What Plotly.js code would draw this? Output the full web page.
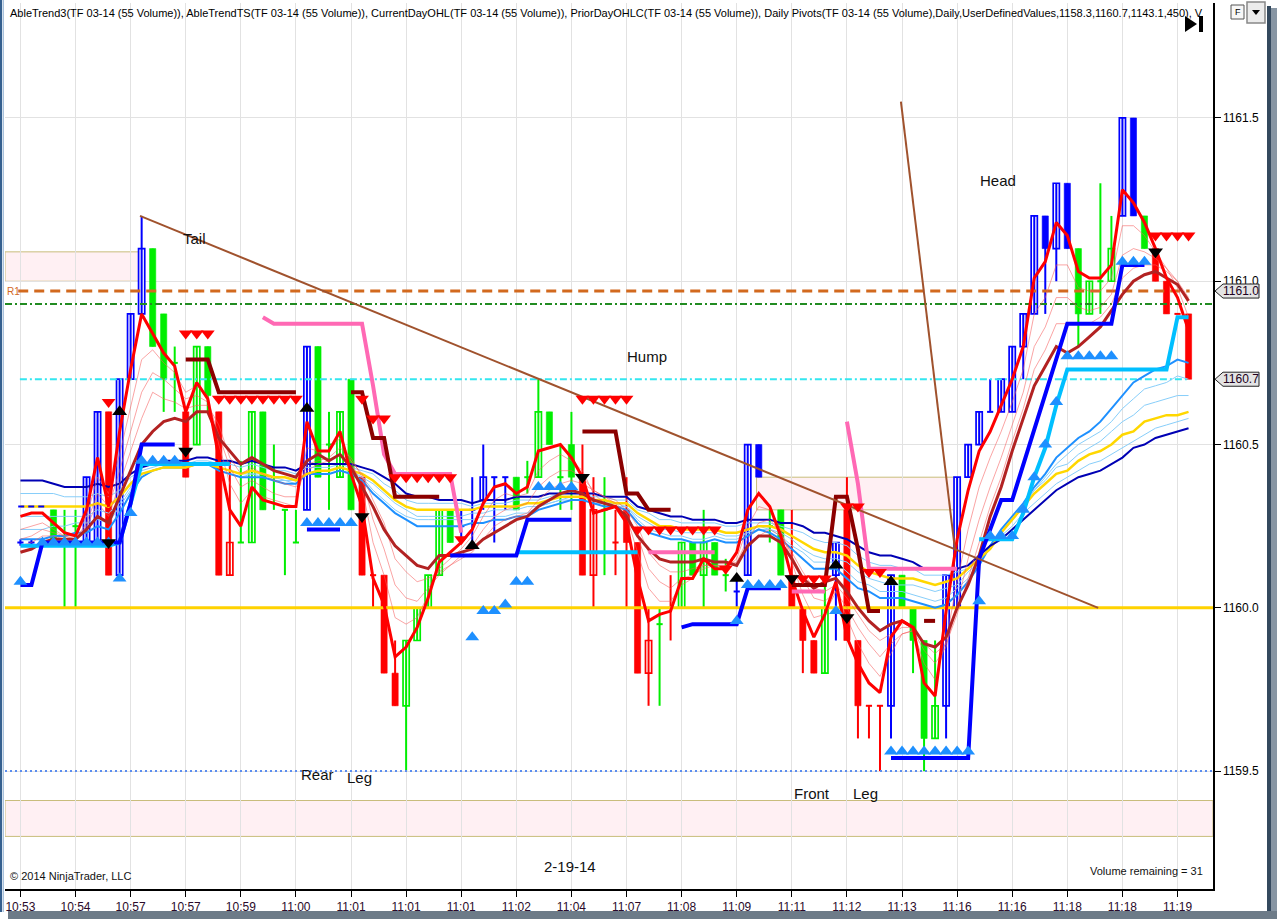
<!DOCTYPE html>
<html><head><meta charset="utf-8">
<script src="https://cdn.plot.ly/plotly-3.0.1.min.js"></script>
<style>html,body{margin:0;padding:0;background:#fff}#chart{width:1277px;height:919px}</style>
</head><body><div id="chart"></div><script>
// ---------- DATA ----------
const timeLabels = ['10:53','10:54','10:57','10:57','10:59','11:00','11:01','11:01','11:01','11:02','11:04','11:07','11:08','11:09','11:11','11:12','11:13','11:16','11:16','11:18','11:18','11:19'];
const tickBars = [0,5,10,15,20,25,30,35,40,45,50,55,60,65,70,75,80,85,90,95,100,105];
const priceTicks = [1159.5,1160.0,1160.5,1161.0,1161.5];

const open = [1160.20,1160.20,1160.20,1160.30,1160.20,1160.25,1160.20,1160.20,1160.60,1160.10,
1160.70,1160.90,1161.10,1160.90,1160.75,1160.60,1160.50,1160.80,1160.60,1160.10,
1160.20,1160.20,1160.60,1160.40,1160.30,1160.20,1160.30,1160.80,1160.50,1160.40,
1160.70,1160.40,1160.10,1160.10,1159.80,1159.70,1159.90,1160.00,1160.10,1160.30,
1160.25,1160.30,1160.33,1160.40,1160.40,1160.40,1160.40,1160.40,1160.60,1160.40,
1160.50,1160.40,1160.10,1160.30,1160.20,1160.30,1160.20,1159.80,1159.95,1160.00,
1160.00,1160.20,1160.10,1160.20,1160.10,1160.05,1160.10,1160.50,1160.25,1160.30,
1160.10,1160.00,1159.90,1159.80,1160.10,1160.30,1159.90,1159.70,1159.70,1159.70,
1160.10,1160.00,1159.90,1159.60,1159.70,1160.00,1160.40,1160.50,1160.60,1160.60,
1160.60,1160.80,1160.90,1161.20,1161.10,1161.30,1161.10,1160.90,1161.00,1161.00,
1161.20,1161.50,1161.20,1161.10,1161.00,1160.90,1160.90];
const high = [1160.21,1160.21,1160.21,1160.30,1160.30,1160.30,1160.40,1160.60,1160.60,1160.70,
1160.90,1161.20,1161.10,1160.90,1160.80,1160.60,1160.80,1160.80,1160.60,1160.45,
1160.45,1160.60,1160.60,1160.50,1160.30,1160.30,1160.80,1160.80,1160.60,1160.60,
1160.70,1160.40,1160.10,1160.10,1159.90,1159.90,1160.00,1160.10,1160.30,1160.30,
1160.30,1160.40,1160.50,1160.40,1160.40,1160.40,1160.45,1160.70,1160.60,1160.50,
1160.60,1160.50,1160.40,1160.40,1160.30,1160.40,1160.20,1160.00,1160.00,1160.10,
1160.20,1160.20,1160.30,1160.20,1160.15,1160.10,1160.50,1160.50,1160.30,1160.30,
1160.30,1160.00,1159.90,1160.10,1160.20,1160.40,1159.90,1159.70,1159.70,1160.10,
1160.10,1160.00,1159.90,1159.90,1160.10,1160.40,1160.50,1160.60,1160.70,1160.70,
1160.80,1160.90,1161.20,1161.20,1161.30,1161.30,1161.10,1161.00,1161.30,1161.20,
1161.50,1161.50,1161.20,1161.10,1161.00,1160.90,1160.90];
const low = [1160.19,1160.19,1160.19,1160.20,1160.00,1160.00,1160.20,1160.20,1160.10,1160.10,
1160.70,1160.90,1160.80,1160.60,1160.60,1160.40,1160.50,1160.60,1160.10,1160.10,
1160.20,1160.20,1160.30,1160.30,1160.10,1160.20,1160.30,1160.40,1160.30,1160.40,
1160.30,1160.10,1160.00,1159.80,1159.70,1159.50,1159.90,1160.00,1160.10,1160.20,
1160.20,1160.20,1160.30,1160.20,1160.30,1160.30,1160.35,1160.40,1160.50,1160.30,
1160.30,1160.10,1160.00,1160.10,1160.10,1160.00,1159.80,1159.70,1159.70,1159.90,
1160.00,1160.10,1160.00,1160.10,1160.05,1160.00,1160.10,1160.40,1160.20,1160.10,
1160.00,1159.80,1159.80,1159.80,1159.90,1159.90,1159.60,1159.60,1159.50,1159.60,
1160.00,1159.80,1159.50,1159.60,1159.60,1160.00,1160.40,1160.50,1160.60,1160.60,
1160.60,1160.70,1160.90,1160.90,1161.00,1161.10,1160.80,1160.90,1160.90,1161.00,
1161.20,1161.20,1161.10,1161.00,1160.90,1160.90,1160.70];
const close = [1160.20,1160.20,1160.20,1160.20,1160.20,1160.25,1160.40,1160.60,1160.10,1160.70,
1160.90,1161.10,1160.80,1160.70,1160.75,1160.40,1160.80,1160.65,1160.10,1160.20,
1160.20,1160.60,1160.30,1160.40,1160.30,1160.20,1160.80,1160.40,1160.50,1160.60,
1160.30,1160.10,1160.10,1159.80,1159.70,1159.90,1160.00,1160.10,1160.30,1160.20,
1160.25,1160.30,1160.40,1160.40,1160.40,1160.30,1160.40,1160.60,1160.50,1160.40,
1160.40,1160.10,1160.30,1160.30,1160.20,1160.20,1159.80,1159.90,1159.95,1160.00,
1160.20,1160.10,1160.20,1160.10,1160.10,1160.05,1160.50,1160.40,1160.25,1160.10,
1160.00,1159.90,1159.80,1160.00,1160.20,1159.90,1159.70,1159.70,1159.70,1160.10,
1160.00,1159.90,1159.60,1159.70,1160.10,1160.40,1160.50,1160.60,1160.60,1160.70,
1160.80,1160.90,1161.20,1161.10,1161.30,1161.10,1160.90,1161.00,1161.00,1161.10,
1161.50,1161.20,1161.10,1161.00,1160.90,1160.90,1160.70];
// trend colour of each bar: B = up trend, G = neutral, R = down trend
const barTrend = 'BBBGGGBBRBBBGGGRGGRRGGGGGGBGGGGRRRRGGGGGBBBBBGGGGGGRRGRRRRGRGGGGGBBBGGRRRGBRRRRBGGGGBBBBBBBBBBBBGGGGBBGRRRR'.split('');

const fastMA = [1160.28,1160.29,1160.29,1160.26,1160.23,1160.22,1160.30,1160.46,1160.31,1160.54,
1160.73,1160.90,1160.84,1160.78,1160.74,1160.60,1160.69,1160.64,1160.46,1160.30,
1160.25,1160.37,1160.33,1160.32,1160.31,1160.31,1160.57,1160.48,1160.48,1160.54,
1160.41,1160.31,1160.09,1160.01,1159.85,1159.88,1159.94,1160.03,1160.14,1160.17,
1160.20,1160.24,1160.32,1160.37,1160.38,1160.35,1160.37,1160.48,1160.49,1160.50,
1160.46,1160.40,1160.29,1160.30,1160.31,1160.26,1160.09,1159.96,1159.98,1159.99,
1160.09,1160.09,1160.15,1160.12,1160.12,1160.17,1160.30,1160.35,1160.31,1160.22,
1160.09,1159.99,1159.91,1159.98,1160.08,1159.91,1159.83,1159.77,1159.74,1159.91,
1159.96,1159.94,1159.77,1159.73,1159.99,1160.21,1160.36,1160.48,1160.54,1160.62,
1160.70,1160.80,1161.01,1161.06,1161.18,1161.14,1161.03,1161.01,1161.01,1161.05,
1161.28,1161.24,1161.18,1161.10,1161.01,1160.95,1160.85];
const slowMA = [1160.17,1160.18,1160.20,1160.21,1160.21,1160.21,1160.24,1160.28,1160.26,1160.34,
1160.42,1160.50,1160.54,1160.57,1160.58,1160.57,1160.60,1160.60,1160.52,1160.48,
1160.44,1160.46,1160.44,1160.42,1160.41,1160.40,1160.45,1160.47,1160.45,1160.47,
1160.43,1160.37,1160.31,1160.24,1160.19,1160.16,1160.13,1160.12,1160.16,1160.16,
1160.17,1160.18,1160.21,1160.23,1160.25,1160.27,1160.28,1160.31,1160.33,1160.35,
1160.36,1160.35,1160.33,1160.32,1160.31,1160.28,1160.22,1160.18,1160.15,1160.14,
1160.14,1160.14,1160.15,1160.14,1160.14,1160.13,1160.19,1160.22,1160.22,1160.20,
1160.15,1160.09,1160.06,1160.08,1160.09,1160.05,1160.00,1159.96,1159.93,1159.95,
1159.96,1159.94,1159.89,1159.88,1159.91,1160.00,1160.07,1160.16,1160.28,1160.37,
1160.48,1160.58,1160.68,1160.74,1160.80,1160.78,1160.80,1160.83,1160.86,1160.91,
1160.96,1161.00,1161.02,1161.03,1161.01,1160.99,1160.94];
const redRibbon1 = [1160.24,1160.25,1160.26,1160.24,1160.22,1160.22,1160.28,1160.40,1160.35,1160.47,
1160.62,1160.76,1160.79,1160.75,1160.72,1160.66,1160.68,1160.65,1160.50,1160.38,
1160.32,1160.36,1160.34,1160.33,1160.32,1160.31,1160.49,1160.48,1160.48,1160.52,
1160.45,1160.37,1160.20,1160.10,1159.97,1159.95,1159.97,1160.04,1160.12,1160.15,
1160.18,1160.22,1160.28,1160.33,1160.35,1160.34,1160.35,1160.42,1160.45,1160.47,
1160.45,1160.42,1160.35,1160.32,1160.31,1160.28,1160.17,1160.06,1160.02,1160.02,
1160.07,1160.09,1160.13,1160.13,1160.12,1160.15,1160.25,1160.31,1160.30,1160.24,
1160.14,1160.04,1159.97,1159.98,1160.05,1159.97,1159.89,1159.83,1159.79,1159.86,
1159.92,1159.93,1159.83,1159.78,1159.90,1160.08,1160.24,1160.37,1160.46,1160.54,
1160.63,1160.73,1160.90,1160.95,1161.05,1161.05,1160.98,1160.97,1160.97,1161.01,
1161.17,1161.17,1161.14,1161.09,1161.04,1160.98,1160.89];
const redRibbon2 = [1160.21,1160.22,1160.24,1160.23,1160.22,1160.21,1160.26,1160.35,1160.31,1160.42,
1160.54,1160.66,1160.72,1160.70,1160.67,1160.64,1160.65,1160.63,1160.53,1160.43,
1160.37,1160.39,1160.37,1160.35,1160.34,1160.34,1160.44,1160.45,1160.46,1160.49,
1160.46,1160.40,1160.27,1160.18,1160.07,1160.03,1160.02,1160.06,1160.10,1160.13,
1160.16,1160.19,1160.24,1160.28,1160.30,1160.31,1160.32,1160.37,1160.40,1160.42,
1160.42,1160.40,1160.36,1160.34,1160.32,1160.29,1160.22,1160.12,1160.08,1160.06,
1160.09,1160.10,1160.12,1160.13,1160.13,1160.14,1160.21,1160.26,1160.27,1160.23,
1160.16,1160.09,1160.03,1160.02,1160.05,1160.00,1159.94,1159.89,1159.85,1159.89,
1159.92,1159.93,1159.87,1159.83,1159.88,1160.01,1160.15,1160.27,1160.37,1160.46,
1160.56,1160.66,1160.80,1160.86,1160.95,1160.95,1160.92,1160.91,1160.92,1160.96,
1161.08,1161.10,1161.09,1161.07,1161.04,1161.00,1160.93];
const redRibbon3 = [1160.19,1160.20,1160.22,1160.22,1160.21,1160.21,1160.25,1160.32,1160.28,1160.38,
1160.48,1160.58,1160.66,1160.64,1160.63,1160.61,1160.62,1160.62,1160.56,1160.46,
1160.41,1160.43,1160.41,1160.39,1160.38,1160.37,1160.42,1160.44,1160.45,1160.47,
1160.45,1160.41,1160.33,1160.26,1160.15,1160.11,1160.08,1160.09,1160.11,1160.13,
1160.15,1160.17,1160.21,1160.25,1160.27,1160.28,1160.29,1160.33,1160.36,1160.38,
1160.39,1160.38,1160.36,1160.34,1160.33,1160.30,1160.25,1160.17,1160.13,1160.11,
1160.11,1160.12,1160.13,1160.13,1160.13,1160.13,1160.19,1160.22,1160.24,1160.22,
1160.17,1160.11,1160.06,1160.05,1160.07,1160.03,1159.98,1159.93,1159.90,1159.92,
1159.94,1159.94,1159.89,1159.86,1159.89,1159.98,1160.09,1160.20,1160.31,1160.40,
1160.51,1160.61,1160.73,1160.79,1160.87,1160.87,1160.87,1160.87,1160.89,1160.93,
1161.01,1161.04,1161.05,1161.05,1161.03,1161.00,1160.95];
const navyMA = [1160.39,1160.39,1160.39,1160.38,1160.37,1160.37,1160.37,1160.38,1160.37,1160.38,
1160.41,1160.43,1160.44,1160.45,1160.45,1160.45,1160.46,1160.46,1160.45,1160.45,
1160.44,1160.45,1160.44,1160.43,1160.43,1160.42,1160.44,1160.44,1160.44,1160.44,
1160.44,1160.43,1160.42,1160.40,1160.38,1160.35,1160.34,1160.34,1160.33,1160.33,
1160.33,1160.32,1160.33,1160.33,1160.33,1160.34,1160.34,1160.34,1160.35,1160.35,
1160.35,1160.35,1160.35,1160.34,1160.34,1160.34,1160.31,1160.30,1160.29,1160.28,
1160.28,1160.27,1160.27,1160.27,1160.26,1160.26,1160.27,1160.27,1160.27,1160.26,
1160.26,1160.25,1160.23,1160.23,1160.22,1160.21,1160.19,1160.17,1160.16,1160.16,
1160.15,1160.14,1160.12,1160.12,1160.12,1160.12,1160.13,1160.16,1160.19,1160.21,
1160.24,1160.27,1160.30,1160.33,1160.36,1160.38,1160.40,1160.41,1160.42,1160.44,
1160.46,1160.49,1160.50,1160.52,1160.53,1160.54,1160.55];
const goldMA = [1160.31,1160.31,1160.31,1160.31,1160.31,1160.31,1160.31,1160.32,1160.31,1160.34,
1160.38,1160.41,1160.42,1160.43,1160.43,1160.43,1160.44,1160.44,1160.43,1160.42,
1160.41,1160.42,1160.41,1160.40,1160.40,1160.39,1160.41,1160.42,1160.42,1160.43,
1160.42,1160.41,1160.39,1160.36,1160.33,1160.31,1160.30,1160.30,1160.30,1160.30,
1160.30,1160.30,1160.31,1160.31,1160.31,1160.31,1160.32,1160.32,1160.33,1160.34,
1160.34,1160.34,1160.33,1160.33,1160.32,1160.32,1160.29,1160.27,1160.25,1160.25,
1160.24,1160.24,1160.24,1160.24,1160.23,1160.23,1160.24,1160.25,1160.25,1160.24,
1160.22,1160.20,1160.18,1160.17,1160.17,1160.16,1160.13,1160.11,1160.10,1160.09,
1160.09,1160.09,1160.08,1160.07,1160.08,1160.09,1160.12,1160.15,1160.18,1160.23,
1160.27,1160.31,1160.35,1160.38,1160.41,1160.42,1160.45,1160.47,1160.48,1160.50,
1160.53,1160.54,1160.57,1160.58,1160.59,1160.59,1160.60];
const dodgerMA = [1160.21,1160.21,1160.21,1160.22,1160.22,1160.23,1160.23,1160.25,1160.24,1160.29,
1160.35,1160.40,1160.42,1160.43,1160.43,1160.43,1160.44,1160.44,1160.42,1160.41,
1160.40,1160.40,1160.40,1160.39,1160.38,1160.38,1160.41,1160.41,1160.41,1160.42,
1160.41,1160.39,1160.35,1160.32,1160.29,1160.27,1160.25,1160.25,1160.25,1160.25,
1160.25,1160.26,1160.26,1160.27,1160.27,1160.28,1160.28,1160.30,1160.31,1160.32,
1160.33,1160.33,1160.32,1160.31,1160.31,1160.30,1160.26,1160.23,1160.22,1160.21,
1160.21,1160.20,1160.20,1160.21,1160.20,1160.20,1160.22,1160.24,1160.23,1160.21,
1160.18,1160.15,1160.12,1160.12,1160.12,1160.09,1160.06,1160.05,1160.03,1160.03,
1160.03,1160.02,1160.01,1160.00,1160.01,1160.04,1160.08,1160.13,1160.19,1160.24,
1160.28,1160.32,1160.37,1160.41,1160.46,1160.49,1160.52,1160.54,1160.57,1160.61,
1160.65,1160.69,1160.71,1160.73,1160.74,1160.76,1160.75];
const blueRibbon1 = [1160.35,1160.35,1160.35,1160.35,1160.34,1160.34,1160.34,1160.35,1160.34,1160.36,
1160.40,1160.42,1160.43,1160.44,1160.44,1160.44,1160.45,1160.45,1160.44,1160.44,
1160.43,1160.44,1160.43,1160.42,1160.42,1160.41,1160.43,1160.43,1160.43,1160.44,
1160.43,1160.42,1160.41,1160.38,1160.36,1160.33,1160.32,1160.32,1160.32,1160.32,
1160.32,1160.31,1160.32,1160.32,1160.32,1160.33,1160.33,1160.33,1160.34,1160.35,
1160.35,1160.35,1160.34,1160.34,1160.33,1160.33,1160.30,1160.29,1160.27,1160.27,
1160.26,1160.26,1160.26,1160.26,1160.25,1160.25,1160.26,1160.26,1160.26,1160.25,
1160.24,1160.23,1160.21,1160.20,1160.20,1160.19,1160.16,1160.14,1160.13,1160.13,
1160.12,1160.12,1160.10,1160.10,1160.10,1160.11,1160.12,1160.15,1160.18,1160.22,
1160.25,1160.29,1160.32,1160.35,1160.38,1160.40,1160.42,1160.44,1160.45,1160.47,
1160.49,1160.51,1160.53,1160.55,1160.56,1160.57,1160.58];
const blueRibbon2 = [1160.28,1160.28,1160.28,1160.28,1160.28,1160.28,1160.28,1160.30,1160.29,1160.32,
1160.37,1160.41,1160.42,1160.43,1160.43,1160.43,1160.44,1160.44,1160.43,1160.42,
1160.41,1160.41,1160.41,1160.40,1160.39,1160.39,1160.41,1160.42,1160.42,1160.43,
1160.42,1160.40,1160.38,1160.35,1160.32,1160.30,1160.28,1160.28,1160.28,1160.28,
1160.28,1160.29,1160.29,1160.30,1160.30,1160.30,1160.31,1160.31,1160.32,1160.33,
1160.34,1160.34,1160.33,1160.32,1160.32,1160.31,1160.28,1160.26,1160.24,1160.24,
1160.23,1160.23,1160.23,1160.23,1160.22,1160.22,1160.23,1160.25,1160.24,1160.23,
1160.21,1160.18,1160.16,1160.15,1160.15,1160.14,1160.11,1160.09,1160.08,1160.07,
1160.07,1160.07,1160.06,1160.05,1160.06,1160.07,1160.11,1160.14,1160.18,1160.23,
1160.27,1160.31,1160.36,1160.39,1160.43,1160.44,1160.47,1160.49,1160.51,1160.54,
1160.57,1160.59,1160.62,1160.63,1160.64,1160.65,1160.65];
const blueRibbon3 = [1160.24,1160.24,1160.24,1160.25,1160.25,1160.26,1160.26,1160.27,1160.26,1160.31,
1160.36,1160.40,1160.42,1160.43,1160.43,1160.43,1160.44,1160.44,1160.42,1160.41,
1160.40,1160.41,1160.40,1160.39,1160.39,1160.38,1160.41,1160.41,1160.41,1160.42,
1160.41,1160.40,1160.36,1160.33,1160.30,1160.28,1160.27,1160.27,1160.27,1160.27,
1160.27,1160.27,1160.28,1160.28,1160.28,1160.29,1160.29,1160.31,1160.32,1160.33,
1160.33,1160.33,1160.32,1160.32,1160.31,1160.31,1160.27,1160.24,1160.23,1160.22,
1160.22,1160.21,1160.21,1160.22,1160.21,1160.21,1160.23,1160.24,1160.24,1160.22,
1160.19,1160.17,1160.14,1160.14,1160.14,1160.11,1160.08,1160.07,1160.05,1160.05,
1160.05,1160.04,1160.03,1160.02,1160.03,1160.06,1160.09,1160.14,1160.19,1160.24,
1160.28,1160.32,1160.36,1160.40,1160.44,1160.47,1160.50,1160.52,1160.54,1160.57,
1160.61,1160.64,1160.67,1160.68,1160.69,1160.71,1160.70];

// AbleTrendTS stop lines (bar index / price, null = gap)
const longStopBars = [0,1,2,3,4,5,6,7,8,9,10,11,12,13,14,null,26,27,28,29,null,39,40,41,42,43,44,45,46,47,48,49,50,null,60,61,62,63,64,65,66,67,68,69,null,79,80,81,82,83,84,85,86,87,88,89,90,91,92,93,94,95,96,97,98,99,100,101,102];
const longStopVals = [1160.07,1160.07,1160.20,1160.20,1160.20,1160.20,1160.20,1160.20,1160.20,1160.20,1160.32,1160.50,1160.50,1160.50,1160.50,null,1160.24,1160.24,1160.24,1160.24,null,1160.16,1160.16,1160.16,1160.16,1160.16,1160.16,1160.16,1160.27,1160.27,1160.27,1160.27,1160.27,null,1159.94,1159.95,1159.95,1159.95,1159.95,1159.95,1160.06,1160.06,1160.06,1160.06,null,1159.54,1159.54,1159.54,1159.54,1159.54,1159.54,1159.54,1159.54,1160.15,1160.24,1160.33,1160.33,1160.44,1160.54,1160.65,1160.76,1160.87,1160.87,1160.87,1160.87,1160.87,1161.05,1161.05,1161.05];
const trailStopBars = [0,1,2,3,4,5,6,7,8,9,10,11,12,13,14,15,16,17,18,19,null,45,46,47,48,49,50,51,52,53,54,55,56,null,87,88,89,90,91,92,93,94,95,96,97,98,99,100,101,102,103,104,105,106];
const trailStopVals = [1160.19,1160.19,1160.19,1160.19,1160.19,1160.19,1160.19,1160.19,1160.19,1160.20,1160.32,1160.44,1160.44,1160.44,1160.44,1160.44,1160.44,1160.44,1160.44,1160.44,null,1160.17,1160.17,1160.17,1160.17,1160.17,1160.17,1160.17,1160.17,1160.17,1160.17,1160.17,1160.17,null,1160.21,1160.21,1160.21,1160.21,1160.29,1160.40,1160.49,1160.62,1160.73,1160.73,1160.73,1160.73,1160.73,1160.73,1160.73,1160.73,1160.73,1160.73,1160.89,1160.89];
const shortStopBars = [15,16,17,18,19,20,21,22,23,24,25,null,30,31,32,33,34,35,36,37,38,null,51,52,53,54,55,56,57,58,59,null,70,71,72,73,74,75,76,77,78,null,82,83];
const shortStopVals = [1160.76,1160.76,1160.76,1160.66,1160.66,1160.66,1160.66,1160.66,1160.66,1160.66,1160.66,null,1160.66,1160.66,1160.52,1160.52,1160.34,1160.34,1160.34,1160.34,1160.34,null,1160.54,1160.54,1160.54,1160.54,1160.35,1160.35,1160.30,1160.30,1160.30,null,1160.07,1160.07,1160.07,1160.07,1160.34,1160.34,1160.18,1159.99,1159.99,null,1159.96,1159.96];
const shortTrailBars = [22,23,24,25,26,27,28,29,30,31,32,33,34,35,36,37,38,39,40,null,57,58,59,60,61,62,63,null,70,71,72,73,null,75,76,77,78,79,80,81,82,83,84,85];
const shortTrailVals = [1160.89,1160.87,1160.87,1160.87,1160.87,1160.87,1160.87,1160.87,1160.87,1160.87,1160.68,1160.47,1160.41,1160.41,1160.41,1160.41,1160.41,1160.41,1160.23,null,1160.17,1160.17,1160.17,1160.17,1160.17,1160.17,1160.17,null,1160.05,1160.05,1160.05,1160.05,null,1160.57,1160.38,1160.12,1160.12,1160.12,1160.12,1160.12,1160.12,1160.12,1160.12,1160.12];
const prevCloseBars = [-0.2,2.3];
const prevCloseVals = [1160.31,1160.31];

// signal markers
const sellDotBars = [8,15,16,17,18,19,20,21,22,23,24,25,31,32,33,34,35,36,37,38,39,40,51,52,53,54,55,56,57,58,59,60,61,62,63,64,70,71,72,73,75,76,77,78,103,104,105,106];
const sellDotVals = [1160.63,1160.84,1160.84,1160.84,1160.64,1160.64,1160.64,1160.64,1160.64,1160.64,1160.64,1160.64,1160.64,1160.58,1160.58,1160.40,1160.40,1160.40,1160.40,1160.40,1160.40,1160.21,1160.64,1160.64,1160.64,1160.64,1160.64,1160.24,1160.24,1160.24,1160.24,1160.24,1160.24,1160.24,1160.24,1160.12,1160.09,1160.09,1160.09,1160.09,1160.31,1160.31,1160.11,1160.11,1161.14,1161.14,1161.14,1161.14];
const buyDotBars = [0,2,3,4,5,6,7,8,9,10,11,12,13,14,26,27,28,29,30,41,42,43,44,45,46,47,48,49,50,65,66,67,68,69,74,79,80,81,82,83,84,85,86,87,88,89,90,91,92,93,94,95,96,97,98,99,100,101,102];
const buyDotVals = [1160.08,1160.20,1160.20,1160.20,1160.20,1160.20,1160.20,1160.20,1160.09,1160.29,1160.45,1160.45,1160.45,1160.45,1160.26,1160.26,1160.26,1160.26,1160.26,1159.91,1159.99,1159.99,1160.01,1160.08,1160.08,1160.37,1160.37,1160.37,1160.37,1159.96,1160.07,1160.07,1160.07,1160.07,1159.99,1159.56,1159.56,1159.56,1159.56,1159.56,1159.56,1159.56,1159.56,1160.02,1160.22,1160.22,1160.22,1160.30,1160.40,1160.50,1160.63,1160.77,1160.77,1160.77,1160.77,1160.77,1161.06,1161.06,1161.06];
const buySignalBars = [9,26,41,65,74,79];
const buySignalVals = [1160.60,1160.61,1160.19,1160.09,1160.13,1160.08];
const sellSignalBars = [8,15,31,51,70,75,103];
const sellSignalVals = [1160.20,1160.48,1160.28,1160.40,1160.09,1159.97,1161.09];

// horizontal levels: R1 pivot, current-day open, prior-day close, prior-day low, current-day low
const levelNames = ['R1','CurrentOpen','PriorClose','PriorLow','CurrentLow'];
const levelVals = [1160.97,1160.93,1160.70,1160.00,1159.50];
const levelStart = [-0.2,-1.4,-0.05,-1.4,-1.4];
const levelEnd = [106.1,108.22,105.95,108.22,108.22];

// prior-day zones (rectangles): bar from/to, price low/high
const zoneFrom = [-1.4,66.8,-1.4];
const zoneTo = [11.0,84.8,108.22];
const zoneLow = [1161.00,1160.30,1159.30];
const zoneHigh = [1161.09,1160.40,1159.41];

// hand-drawn trend lines (bar, price)
const trendABars = [10.85,97.8];
const trendAVals = [1161.20,1160.00];
const trendBBars = [79.9,84.8];
const trendBVals = [1161.55,1160.18];

// ---------- BUILD ----------
const FONT = 'Liberation Sans, Arial, sans-serif';
const trendColor = {B:'#0000ff', G:'#00ee00', R:'#ff0000'};
const traces = [];

function lineTrace(x, y, color, width, dash) {
  return {type:'scatter', mode:'lines', x:x, y:y, connectgaps:false,
    line:{color:color, width:width, dash:dash||'solid'}, hoverinfo:'skip'};
}
const barIndex = open.map((_, i) => i);

// candles: wicks (and doji caps)
['B','G','R'].forEach(c => {
  const wx = [], wy = [];
  barTrend.forEach((t, i) => {
    if (t !== c) return;
    wx.push(i, i, null); wy.push(low[i], high[i], null);
    if (Math.abs(close[i] - open[i]) < 1e-9) { wx.push(i - 0.28, i + 0.28, null); wy.push(open[i], open[i], null); }
  });
  traces.push(lineTrace(wx, wy, trendColor[c], 2));
});
// candles: bodies (hollow = up, filled = down)
['B','G','R'].forEach(c => {
  [true, false].forEach(up => {
    const bx = [], bb = [], bh = [];
    barTrend.forEach((t, i) => {
      if (t !== c) return;
      const d = close[i] - open[i];
      if (Math.abs(d) < 1e-9 || (d > 0) !== up) return;
      bx.push(i); bb.push(Math.min(open[i], close[i])); bh.push(Math.abs(d));
    });
    traces.push({type:'bar', x:bx, y:bh, base:bb, width:0.56, hoverinfo:'skip',
      marker:{color: up ? '#ffffff' : trendColor[c], line:{color: trendColor[c], width: up ? 1.7 : 0.6}}});
  });
});

// level lines
const levelStyle = {
  R1:{color:'#d2691e', width:3, dash:'10px,6px'},
  CurrentOpen:{color:'#228b22', width:2, dash:'7px,3px,2px,3px'},
  PriorClose:{color:'#33e6f0', width:2, dash:'7px,3px,2px,3px'},
  PriorLow:{color:'#ffd200', width:3, dash:'solid'},
  CurrentLow:{color:'#5b8def', width:2, dash:'2px,3px'}
};
levelNames.forEach((n, k) => {
  const s = levelStyle[n];
  traces.push(lineTrace([levelStart[k], levelEnd[k]], [levelVals[k], levelVals[k]], s.color, s.width, s.dash));
});

// blue moving-average band
traces.push(lineTrace(barIndex, blueRibbon1, '#87cefa', 1));
traces.push(lineTrace(barIndex, blueRibbon2, '#87cefa', 1));
traces.push(lineTrace(barIndex, blueRibbon3, '#87cefa', 1));
traces.push(lineTrace(barIndex, dodgerMA, '#1e90ff', 2));
traces.push(lineTrace(barIndex, goldMA, '#ffd700', 2.5));
traces.push(lineTrace(barIndex, navyMA, '#0000b4', 2));
// red moving-average ribbon
traces.push(lineTrace(barIndex, redRibbon3, 'rgba(245,90,90,0.55)', 1));
traces.push(lineTrace(barIndex, redRibbon2, 'rgba(245,90,90,0.55)', 1));
traces.push(lineTrace(barIndex, redRibbon1, 'rgba(245,90,90,0.55)', 1));
traces.push(lineTrace(barIndex, slowMA, '#b22222', 3));
traces.push(lineTrace(barIndex, fastMA, '#ff0000', 3));

// stop lines
traces.push(lineTrace(prevCloseBars, prevCloseVals, '#0000ff', 2, '6px,4px'));
traces.push(lineTrace(trailStopBars, trailStopVals, '#00bfff', 4));
traces.push(lineTrace(longStopBars, longStopVals, '#0000ff', 4));
traces.push(lineTrace(shortTrailBars, shortTrailVals, '#ff69b4', 4));
traces.push(lineTrace(shortStopBars, shortStopVals, '#8b0000', 4));

// trend lines
traces.push(lineTrace(trendABars, trendAVals, '#a0522d', 2));
traces.push(lineTrace(trendBBars, trendBVals, '#a0522d', 2));

// markers
function markerTrace(x, y, symbol, color, size) {
  return {type:'scatter', mode:'markers', x:x, y:y, hoverinfo:'skip',
    marker:{symbol:symbol, color:color, size:size, line:{width:0}}};
}
traces.push(markerTrace(sellDotBars, sellDotVals, 'triangle-down', '#ff0000', 12));
traces.push(markerTrace(buyDotBars, buyDotVals, 'triangle-up', '#1e90ff', 12));
traces.push(markerTrace(buySignalBars, buySignalVals, 'triangle-up', '#000000', 13));
traces.push(markerTrace(sellSignalBars, sellSignalVals, 'triangle-down', '#000000', 13));

// ---------- LAYOUT ----------
const L = 5, R = 64, T = 3, B = 30, W = 1277, H = 919;
const pw = W - L - R, ph = H - T - B;
const px = v => (v - L) / pw;          // pixel x -> paper
const py = v => (H - B - v) / ph;      // pixel y -> paper

const shapes = [];
zoneFrom.forEach((_, k) => shapes.push({type:'rect', layer:'below', xref:'x', yref:'y',
  x0:zoneFrom[k], x1:zoneTo[k], y0:zoneLow[k], y1:zoneHigh[k],
  fillcolor:'#fff0f3', line:{color:'#c9bd7c', width:1}}));
// window frame
shapes.push({type:'rect', xref:'paper', yref:'paper', x0:px(0), x1:px(2), y0:py(912), y1:py(0), fillcolor:'#35608f', line:{width:0}});
shapes.push({type:'rect', xref:'paper', yref:'paper', x0:px(2.5), x1:px(4), y0:py(912), y1:py(0), fillcolor:'#a9c2dc', line:{width:0}});
shapes.push({type:'rect', xref:'paper', yref:'paper', x0:px(1267), x1:px(1271), y0:py(919), y1:py(6), fillcolor:'#34495e', line:{width:0}});
shapes.push({type:'rect', xref:'paper', yref:'paper', x0:px(1271), x1:px(1277), y0:py(919), y1:py(8), fillcolor:'#8795a3', line:{width:0}});
shapes.push({type:'rect', xref:'paper', yref:'paper', x0:px(8), x1:px(1277), y0:py(919), y1:py(911), fillcolor:'#6d7b88', line:{width:0}});
// price markers on the axis
[levelVals[0], levelVals[2]].forEach(v => {
  const h = 0.0215;
  shapes.push({type:'path', xref:'paper', yref:'y', layer:'above',
    path:`M ${px(1215)},${v} L ${px(1223)},${v+h} L ${px(1259)},${v+h} L ${px(1259)},${v-h} L ${px(1223)},${v-h} Z`,
    fillcolor:'#e4e4e4', line:{color:'#222', width:1}});
});
// top-right controls
shapes.push({type:'path', xref:'paper', yref:'paper', path:`M ${px(1185)},${py(16)} L ${px(1185)},${py(32)} L ${px(1197)},${py(24)} Z`, fillcolor:'#000', line:{width:0}});
shapes.push({type:'rect', xref:'paper', yref:'paper', x0:px(1199), x1:px(1203), y0:py(32), y1:py(16), fillcolor:'#000', line:{width:0}});
shapes.push({type:'rect', xref:'paper', yref:'paper', x0:px(1231), x1:px(1244), y0:py(19), y1:py(5), fillcolor:'#f7f7f7', line:{color:'#555', width:1}});
shapes.push({type:'rect', xref:'paper', yref:'paper', x0:px(1247), x1:px(1265), y0:py(23), y1:py(2), fillcolor:'#ececec', line:{color:'#888', width:1.5}});
shapes.push({type:'path', xref:'paper', yref:'paper', path:`M ${px(1252)},${py(10)} L ${px(1260)},${py(10)} L ${px(1256)},${py(15)} Z`, fillcolor:'#000', line:{width:0}});

const headerText = 'AbleTrend3(TF 03-14 (55 Volume)), AbleTrendTS(TF 03-14 (55 Volume)), CurrentDayOHL(TF 03-14 (55 Volume)), PriorDayOHLC(TF 03-14 (55 Volume)), Daily Pivots(TF 03-14 (55 Volume),Daily,UserDefinedValues,1158.3,1160.7,1143.1,450), V';
const ann = (text, x, y, opts) => Object.assign({text:text, x:x, y:y, showarrow:false,
  xanchor:'center', yanchor:'middle',
  font:{family:FONT, size:15, color:'#111'}}, opts||{});
const annotations = [
  ann(headerText, px(8), py(13), {xref:'paper', yref:'paper', xanchor:'left', font:{family:FONT, size:11, color:'#000'}}),
  ann('Tail', 15.8, 1161.13), ann('Hump', 56.9, 1160.77), ann('Head', 88.7, 1161.31),
  ann('Rear', 27.0, 1159.49), ann('Leg', 30.8, 1159.48), ann('Front', 71.8, 1159.43), ann('Leg', 76.7, 1159.43),
  ann('2-19-14', px(570), py(866), {xref:'paper', yref:'paper'}),
  ann('© 2014 NinjaTrader, LLC', px(8), py(876), {xref:'paper', yref:'paper', xanchor:'left', font:{family:FONT, size:11, color:'#111'}}),
  ann('Volume remaining = 31', px(1205), py(871), {xref:'paper', yref:'paper', xanchor:'right', font:{family:FONT, size:11, color:'#111'}}),
  ann('R1', px(5), levelVals[0], {xref:'paper', yref:'y', xanchor:'left', font:{family:FONT, size:10, color:'#d2691e'}}),
  ann(levelVals[0].toFixed(1), px(1241), levelVals[0], {xref:'paper', yref:'y', font:{family:FONT, size:12, color:'#200020'}}),
  ann(levelVals[2].toFixed(1), px(1241), levelVals[2], {xref:'paper', yref:'y', font:{family:FONT, size:12, color:'#200020'}}),
  ann('F', px(1237.5), py(12), {xref:'paper', yref:'paper', font:{family:FONT, size:9, color:'#000'}})
];

const layout = {
  width:W, height:H, margin:{l:L, r:R, t:T, b:B, pad:0},
  paper_bgcolor:'#ffffff', plot_bgcolor:'#ffffff', showlegend:false, hovermode:false,
  barmode:'overlay',
  xaxis:{range:[-1.4,108.22], tickmode:'array', tickvals:tickBars, ticktext:timeLabels,
    showgrid:true, gridcolor:'#e2e2e2', gridwidth:1, zeroline:false,
    showline:true, linecolor:'#000', linewidth:1.5, ticks:'outside', ticklen:6, tickcolor:'#000',
    tickfont:{family:FONT, size:12, color:'#2a0a2a'}, fixedrange:true},
  yaxis:{side:'right', range:[1159.139,1161.852], tickmode:'array', tickvals:priceTicks,
    ticktext:priceTicks.map(v => v.toFixed(1)),
    showgrid:true, gridcolor:'#e2e2e2', gridwidth:1, zeroline:false,
    showline:true, linecolor:'#000', linewidth:1.5, ticks:'outside', ticklen:6, tickcolor:'#000',
    tickfont:{family:FONT, size:12, color:'#000'}, fixedrange:true},
  shapes:shapes, annotations:annotations
};
Plotly.newPlot('chart', traces, layout, {displayModeBar:false, staticPlot:true});
</script></body></html>
